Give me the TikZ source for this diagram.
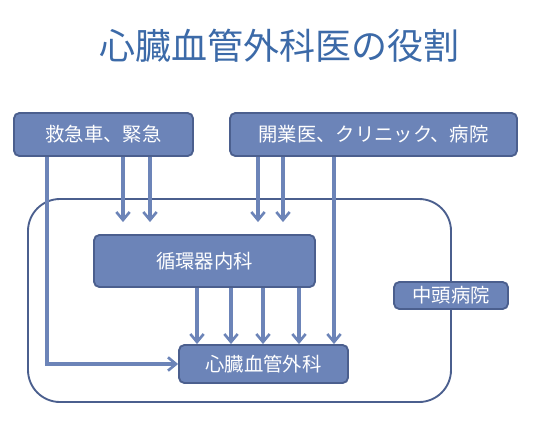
\documentclass[tikz,border=0pt]{standalone}
\usepackage{fontspec}
\setmainfont{Noto Sans CJK JP}
\usetikzlibrary{arrows.meta}
\definecolor{boxfill}{HTML}{6C84B8}
\definecolor{boxline}{HTML}{4B5F8E}
\definecolor{titleblue}{HTML}{3C6AA8}
\tikzset{
  unit/.style={draw=boxline,fill=boxfill,line width=1.4pt,rounded corners=4pt,
    text=white,font=\fontsize{14.5}{17}\selectfont,inner sep=0pt},
  flow/.style={draw=boxfill,line width=2.3pt,-{Straight Barb[length=6pt,width=10pt,line width=2pt]}},
}
\begin{document}
\begin{tikzpicture}[x=0.75pt,y=-0.75pt]
  \useasboundingbox (0,0) rectangle (552,443);
  \node[text=titleblue,font=\fontsize{27}{32}\selectfont] (title) at (279,46) {心臓血管外科医の役割};
  % hospital frame
  \node[draw=boxline,line width=1.4pt,rounded corners=24pt,minimum width=317.25pt,minimum height=152.25pt] (hospital) at (239.5,300.5) {};
  \node[unit,minimum width=134.25pt,minimum height=32.25pt] (kyukyu) at (103.5,134.5) {救急車、緊急};
  \node[unit,minimum width=215.25pt,minimum height=32.25pt] (kaigyo) at (373.5,134.5) {開業医、クリニック、病院};
  \node[unit,minimum width=165.75pt,minimum height=39pt] (naika) at (204.5,261) {循環器内科};
  \node[unit,minimum width=85.5pt,minimum height=20.25pt] (chuto) at (451,295.5) {中頭病院};
  \node[unit,minimum width=126.75pt,minimum height=28.5pt] (geka) at (263.5,364) {心臓血管外科};
  % arrows
  \draw[flow] (kyukyu.south -| 47,0) |- (geka.west);
  \foreach \x in {123,150}
    \draw[flow] (kyukyu.south -| \x,0) -- ([yshift=9pt]naika.north -| \x,0);
  \foreach \x in {258,283}
    \draw[flow] (kaigyo.south -| \x,0) -- ([yshift=9pt]naika.north -| \x,0);
  \draw[flow] (kaigyo.south -| 334,0) -- (geka.north -| 334,0);
  \foreach \x in {197,231,263,299}
    \draw[flow] (naika.south -| \x,0) -- (geka.north -| \x,0);
\end{tikzpicture}
\end{document}
